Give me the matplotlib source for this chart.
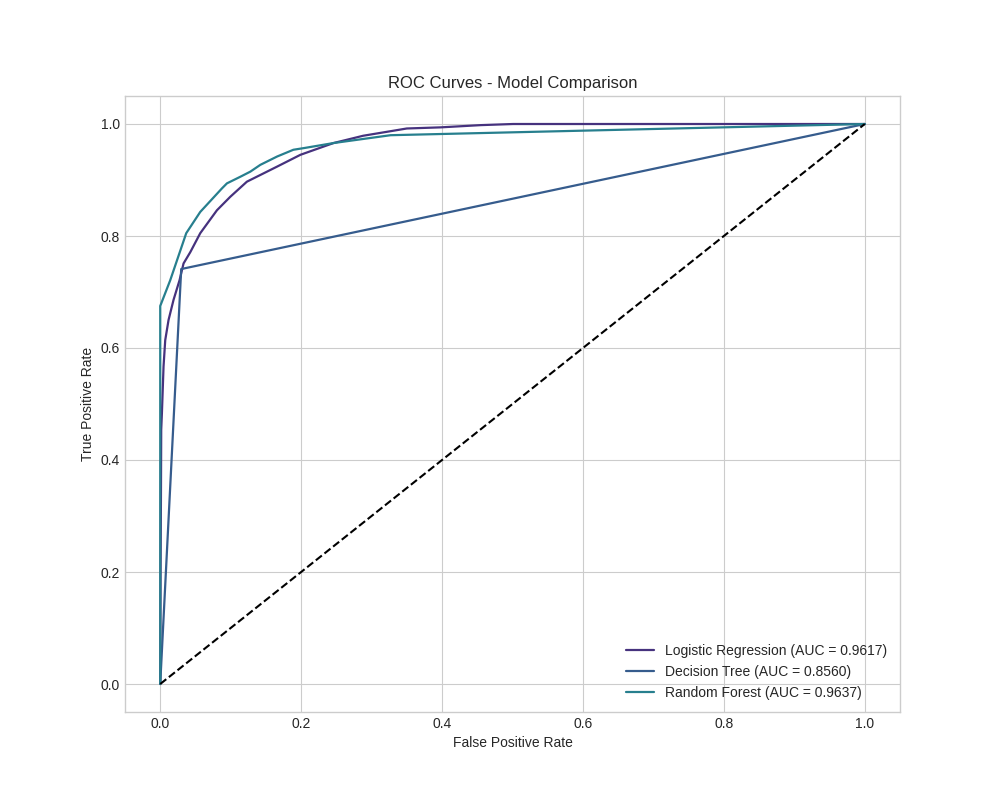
import matplotlib
matplotlib.use('Agg')
from matplotlib import pyplot as plt

plt.style.use('seaborn-v0_8-whitegrid')
plt.rcParams['font.family'] = ['Liberation Sans', 'DejaVu Sans']

# curve points
lr_fpr = [0.0, 0.0005, 0.0010, 0.0014, 0.0024, 0.0047, 0.0071, 0.0118, 0.0189, 0.0274,
          0.0331, 0.0426, 0.0568, 0.0805, 0.0994, 0.123, 0.166, 0.199, 0.246, 0.288,
          0.331, 0.350, 0.398, 0.455, 0.501, 1.0]
lr_tpr = [0.0, 0.20, 0.329, 0.454, 0.484, 0.567, 0.614, 0.650, 0.686, 0.721,
          0.751, 0.771, 0.805, 0.846, 0.870, 0.897, 0.924, 0.945, 0.966, 0.979,
          0.988, 0.992, 0.994, 0.998, 1.0, 1.0]

dt_fpr = [0.0, 0.0298, 1.0]
dt_tpr = [0.0, 0.741, 1.0]

rf_fpr = [0.0, 0.0, 0.0142, 0.0369, 0.0568, 0.0876, 0.0947, 0.114, 0.128, 0.142,
          0.166, 0.189, 0.204, 0.246, 0.327, 1.0]
rf_tpr = [0.0, 0.675, 0.721, 0.805, 0.843, 0.885, 0.894, 0.906, 0.915, 0.927,
          0.942, 0.954, 0.957, 0.966, 0.980, 1.0]

models = ['Logistic Regression', 'Decision Tree', 'Random Forest']
aucs = [0.9617, 0.8560, 0.9637]
colors = plt.cm.viridis([1 / 7, 2 / 7, 3 / 7])

fig, ax = plt.subplots(figsize=(10, 8), dpi=100)
for name, auc, fpr, tpr, c in zip(models, aucs, [lr_fpr, dt_fpr, rf_fpr],
                                  [lr_tpr, dt_tpr, rf_tpr], colors):
    ax.plot(fpr, tpr, color=c, lw=1.6, label=f'{name} (AUC = {auc:.4f})')
ax.plot([0, 1], [0, 1], 'k--', lw=1.5)

for s in ax.spines.values():
    s.set_visible(True)
    s.set_color('#cccccc')

ax.set_xlabel('False Positive Rate', fontsize=10)
ax.set_ylabel('True Positive Rate', fontsize=10)
ax.set_title('ROC Curves - Model Comparison', fontsize=12)
ax.tick_params(labelsize=10)
ax.legend(loc='lower right', fontsize=10)
fig.savefig('out.png')
